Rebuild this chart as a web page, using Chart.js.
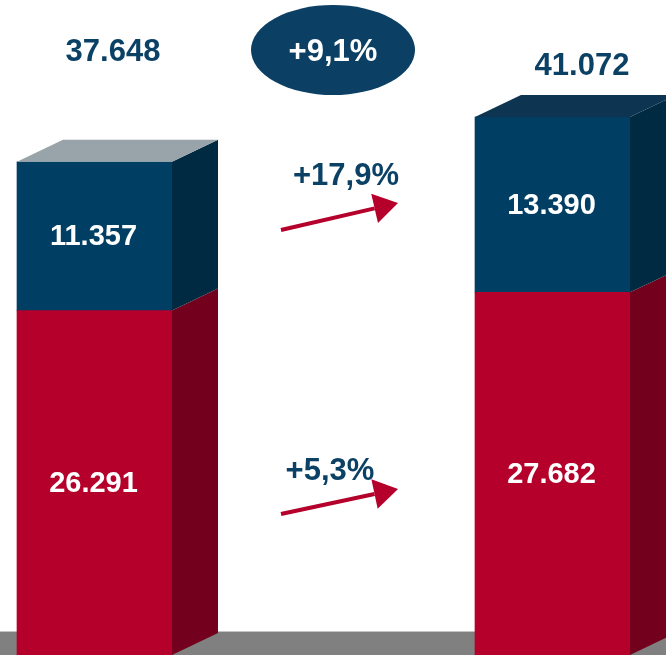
<!DOCTYPE html>
<html>
<head>
<meta charset="utf-8">
<script src="https://cdn.jsdelivr.net/npm/chart.js@4.4.0/dist/chart.umd.min.js"></script>
<style>
  html, body { margin: 0; padding: 0; background: #fff; overflow: hidden; }
  canvas { display: block; }
</style>
</head>
<body>
<canvas id="chart" width="666" height="655"></canvas>
<script>
// data
const periods = ['Periodo 1', 'Periodo 2'];
const bottomValues = [26291, 27682];
const topValues = [11357, 13390];
const yMax = 50000;

// colours
const RED = '#b4002b';
const RED_SIDE = '#73001c';
const BLUE = '#003f63';
const BLUE_SIDE = '#002a42';
const TOP_FACES = ['#98a4aa', '#0d3552'];
const NAVY_TEXT = '#0c4166';
const FONT = '"Liberation Sans", Arial, sans-serif';

// 3d depth of the cubes
const DX = 46;
const DY = 22;

function fmt(n) {
    return String(Math.round(n)).replace(/\B(?=(\d{3})+(?!\d))/g, '.');
}
function pct(a, b) {
    return '+' + ((b / a - 1) * 100).toFixed(1).replace('.', ',') + '%';
}

const totals = bottomValues.map((v, i) => v + topValues[i]);

function arrow(ctx, x1, y1, x2, y2) {
    const len = Math.hypot(x2 - x1, y2 - y1);
    const ux = (x2 - x1) / len, uy = (y2 - y1) / len;
    const bx = x2 - ux * 24, by = y2 - uy * 24;
    ctx.strokeStyle = RED;
    ctx.fillStyle = RED;
    ctx.lineWidth = 4;
    ctx.beginPath();
    ctx.moveTo(x1, y1);
    ctx.lineTo(bx, by);
    ctx.stroke();
    ctx.beginPath();
    ctx.moveTo(x2, y2);
    ctx.lineTo(bx - uy * 15, by + ux * 15);
    ctx.lineTo(bx + uy * 15, by - ux * 15);
    ctx.closePath();
    ctx.fill();
}

const cubes = {
    id: 'cubes',
    beforeDatasetsDraw(chart) {
        const ctx = chart.ctx;
        // floor
        ctx.save();
        ctx.fillStyle = '#808080';
        ctx.fillRect(0, 632, chart.width, chart.height - 632);
        ctx.fillStyle = '#c4c4c4';
        ctx.fillRect(0, 631, chart.width, 1);
        ctx.restore();
    },
    afterDatasetsDraw(chart) {
        const ctx = chart.ctx;
        const sides = [RED_SIDE, BLUE_SIDE];
        ctx.save();
        chart.data.datasets.forEach((ds, di) => {
            const meta = chart.getDatasetMeta(di);
            meta.data.forEach((el, j) => {
                const p = el.getProps(['x', 'y', 'base', 'width'], true);
                const left = p.x - p.width / 2, right = p.x + p.width / 2;
                ctx.fillStyle = sides[di];
                ctx.beginPath();
                ctx.moveTo(right, p.y);
                ctx.lineTo(right + DX, p.y - DY);
                ctx.lineTo(right + DX, p.base - DY);
                ctx.lineTo(right, p.base);
                ctx.closePath();
                ctx.fill();
                if (di === chart.data.datasets.length - 1) {
                    ctx.fillStyle = TOP_FACES[j];
                    ctx.beginPath();
                    ctx.moveTo(left, p.y);
                    ctx.lineTo(left + DX, p.y - DY);
                    ctx.lineTo(right + DX, p.y - DY);
                    ctx.lineTo(right, p.y);
                    ctx.closePath();
                    ctx.fill();
                }
                // value inside the segment
                ctx.fillStyle = '#fff';
                ctx.font = 'bold 29px ' + FONT;
                ctx.textAlign = 'center';
                ctx.textBaseline = 'middle';
                ctx.fillText(fmt(ds.data[j]), p.x - 1, (p.y + p.base) / 2 + 1);
            });
        });

        // totals above the bars
        ctx.fillStyle = NAVY_TEXT;
        ctx.font = 'bold 31px ' + FONT;
        ctx.textAlign = 'center';
        ctx.textBaseline = 'middle';
        ctx.fillText(fmt(totals[0]), 113, 52);
        ctx.fillText(fmt(totals[1]), 582, 66);

        // total growth in the ellipse
        ctx.fillStyle = '#0b3f63';
        ctx.beginPath();
        ctx.ellipse(333, 50, 82, 45, 0, 0, Math.PI * 2);
        ctx.fill();
        ctx.fillStyle = '#fff';
        ctx.fillText(pct(totals[0], totals[1]), 333, 52);

        // growth per segment
        ctx.fillStyle = NAVY_TEXT;
        ctx.fillText(pct(topValues[0], topValues[1]), 346, 176);
        ctx.fillText(pct(bottomValues[0], bottomValues[1]), 330, 471);
        arrow(ctx, 281, 230, 398, 203);
        arrow(ctx, 281, 514, 398, 489);
        ctx.restore();
    }
};

new Chart(document.getElementById('chart'), {
    type: 'bar',
    data: {
        labels: periods,
        datasets: [
            { label: 'Base', data: bottomValues, backgroundColor: RED, barThickness: 155, borderWidth: 0, clip: false },
            { label: 'Top', data: topValues, backgroundColor: BLUE, barThickness: 155, borderWidth: 0, clip: false }
        ]
    },
    options: {
        responsive: false,
        animation: false,
        layout: { padding: { left: 94.5, right: 113.5, top: 0, bottom: 0 } },
        scales: {
            x: { display: false, stacked: true, offset: false },
            y: { display: false, stacked: true, min: 0, max: yMax }
        },
        plugins: {
            legend: { display: false },
            tooltip: { enabled: false }
        }
    },
    plugins: [cubes]
});
</script>
</body>
</html>
